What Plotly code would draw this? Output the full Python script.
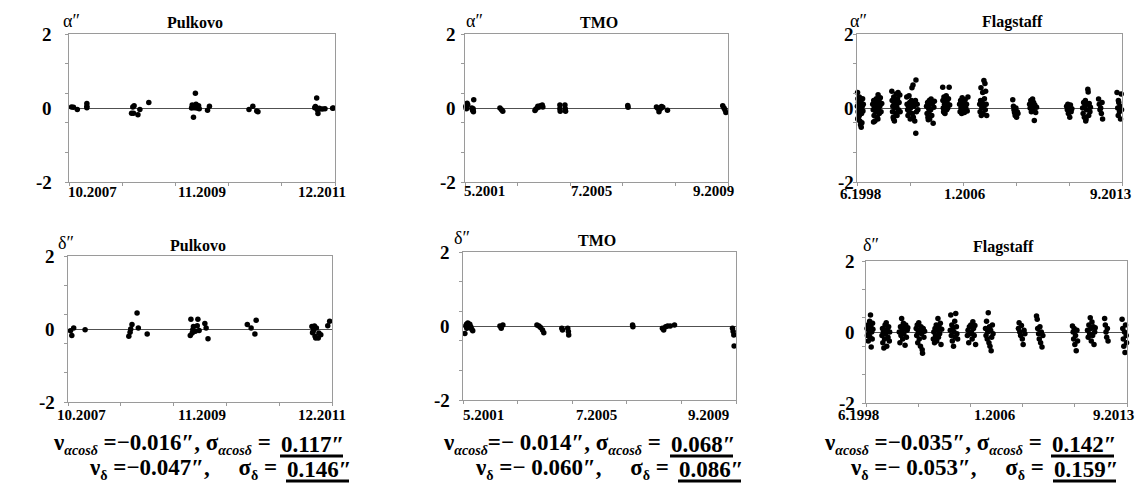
import plotly.graph_objects as go

W, H = 1141, 497

def px(x):
    return x / W

def py(y):
    return 1 - y / H

# ---------------- DATA (decimal year, residual in arcsec) ----------------
pulkovo_ra = [
    (2007.79, 0.03), (2007.82, 0.02), (2007.88, -0.04),
    (2008.03, 0.12), (2008.03, 0.05), (2008.03, 0.01),
    (2008.73, -0.14), (2008.76, -0.14), (2008.75, 0.03), (2008.77, 0.06),
    (2008.83, -0.18), (2008.86, -0.04), (2009.00, 0.15),
    (2009.68, 0.08), (2009.69, 0.02), (2009.67, 0.00), (2009.71, 0.01), (2009.73, 0.40),
    (2009.70, -0.25), (2009.74, 0.10), (2009.75, 0.00), (2009.78, 0.06), (2009.79, -0.02),
    (2009.92, -0.06), (2009.95, 0.05),
    (2010.57, -0.04), (2010.63, 0.05), (2010.69, -0.08), (2010.71, -0.10),
    (2011.60, 0.01), (2011.61, 0.04), (2011.63, 0.27), (2011.64, -0.05), (2011.65, -0.15),
    (2011.67, -0.01), (2011.68, -0.03), (2011.72, -0.03), (2011.76, -0.02), (2011.88, -0.01),
    (2011.89, 0.00),
]
tmo_ra = [
    (2001.36, 0.05), (2001.37, 0.00), (2001.40, 0.13), (2001.42, 0.09), (2001.38, -0.02),
    (2001.55, 0.00), (2001.57, -0.05), (2001.59, -0.02), (2001.61, 0.22), (2001.60, -0.10),
    (2001.58, -0.07),
    (2002.44, 0.00), (2002.49, -0.05), (2002.53, -0.09),
    (2003.55, -0.07), (2003.58, -0.03), (2003.64, 0.05), (2003.67, 0.02), (2003.72, 0.06),
    (2003.78, 0.08), (2003.80, 0.03),
    (2004.34, 0.08), (2004.34, -0.02), (2004.35, -0.09), (2004.50, 0.08), (2004.51, -0.02),
    (2004.52, -0.09),
    (2006.49, 0.07), (2006.50, 0.02),
    (2007.40, 0.03), (2007.44, -0.01), (2007.48, -0.10), (2007.52, -0.03), (2007.56, 0.04),
    (2007.60, 0.02), (2007.75, -0.06),
    (2009.50, 0.06), (2009.54, 0.00), (2009.57, -0.05), (2009.60, -0.12),
]
flagstaff_ra = [
    (1998.45, 0.42), (1998.47, 0.25), (1998.50, 0.15), (1998.44, 0.05), (1998.52, -0.02),
    (1998.48, -0.10), (1998.55, -0.20), (1998.46, -0.30), (1998.58, -0.35), (1998.62, -0.45),
    (1998.66, -0.52), (1998.70, -0.40), (1998.60, 0.10), (1998.65, 0.20), (1998.72, 0.05),
    (1998.76, -0.08), (1998.68, -0.15), (1998.55, 0.30), (1998.74, 0.25), (1998.78, 0.10),
    (1998.50, -0.25), (1998.63, 0.00),
    (1999.32, 0.10), (1999.35, -0.05), (1999.38, 0.20), (1999.40, -0.20), (1999.42, 0.05),
    (1999.45, -0.35), (1999.48, 0.15), (1999.50, -0.10), (1999.53, 0.25), (1999.55, 0.00),
    (1999.58, -0.25), (1999.60, 0.10), (1999.63, 0.36), (1999.65, -0.05), (1999.68, 0.20),
    (1999.70, -0.15), (1999.73, 0.05), (1999.76, 0.28), (1999.80, -0.10), (1999.84, 0.12),
    (1999.37, -0.38), (1999.62, -0.30),
    (2000.42, 0.45), (2000.44, 0.20), (2000.46, -0.10), (2000.48, 0.05), (2000.50, -0.25),
    (2000.53, 0.30), (2000.55, 0.10), (2000.57, -0.35), (2000.60, 0.00), (2000.62, 0.18),
    (2000.65, -0.15), (2000.67, 0.38), (2000.70, 0.05), (2000.72, -0.20), (2000.75, 0.25),
    (2000.78, 0.42), (2000.80, -0.05), (2000.84, 0.15), (2000.88, 0.35), (2000.90, -0.10),
    (2000.52, -0.30), (2000.68, 0.12),
    (2001.28, 0.30), (2001.30, 0.10), (2001.33, -0.05), (2001.35, -0.20), (2001.38, 0.05),
    (2001.41, 0.33), (2001.42, -0.10), (2001.45, 0.15), (2001.48, -0.30), (2001.50, 0.00),
    (2001.55, 0.20), (2001.58, 0.55), (2001.60, -0.15), (2001.62, 0.10), (2001.64, 0.62),
    (2001.66, -0.25), (2001.70, 0.05), (2001.74, -0.35), (2001.78, 0.20), (2001.81, 0.76),
    (2001.80, -0.68), (2001.84, -0.10), (2001.88, 0.10), (2001.92, -0.05),
    (2002.42, 0.05), (2002.45, -0.15), (2002.48, 0.15), (2002.50, -0.25), (2002.53, 0.00),
    (2002.56, -0.10), (2002.58, 0.20), (2002.60, -0.30), (2002.63, 0.10), (2002.66, -0.05),
    (2002.68, 0.24), (2002.72, -0.20), (2002.75, 0.12), (2002.80, -0.41), (2002.84, 0.02),
    (2002.87, 0.18), (2002.52, -0.32),
    (2003.35, 0.56), (2003.36, 0.20), (2003.38, 0.00), (2003.40, -0.10), (2003.42, 0.30),
    (2003.45, 0.10), (2003.48, -0.15), (2003.50, 0.22), (2003.52, 0.05), (2003.55, 0.33),
    (2003.58, -0.05), (2003.60, 0.15), (2003.64, 0.00), (2003.68, 0.25), (2003.72, 0.56),
    (2003.75, 0.08), (2003.44, -0.12),
    (2004.32, 0.10), (2004.35, -0.10), (2004.38, 0.20), (2004.40, 0.00), (2004.44, -0.15),
    (2004.47, 0.28), (2004.50, 0.05), (2004.53, -0.05), (2004.56, 0.15), (2004.60, -0.12),
    (2004.64, 0.22), (2004.68, 0.00), (2004.72, 0.10), (2004.76, -0.08), (2004.80, 0.30),
    (2005.48, 0.10), (2005.50, -0.10), (2005.53, 0.20), (2005.55, 0.55), (2005.57, -0.20),
    (2005.60, 0.00), (2005.62, 0.15), (2005.65, 0.42), (2005.67, -0.15), (2005.70, 0.05),
    (2005.72, 0.74), (2005.75, 0.25), (2005.78, 0.66), (2005.80, -0.05), (2005.82, 0.45),
    (2005.85, 0.10), (2005.88, -0.20),
    (2007.38, 0.22), (2007.42, 0.05), (2007.45, -0.05), (2007.48, -0.12), (2007.52, -0.20),
    (2007.56, 0.00), (2007.60, -0.25), (2007.64, -0.10), (2007.68, -0.15),
    (2008.35, 0.10), (2008.38, 0.00), (2008.42, 0.20), (2008.45, -0.10), (2008.48, 0.05),
    (2008.52, 0.24), (2008.55, -0.05), (2008.58, 0.15), (2008.62, -0.34), (2008.65, 0.08),
    (2008.70, -0.12), (2008.75, 0.02),
    (2010.48, 0.05), (2010.52, -0.05), (2010.55, 0.10), (2010.58, -0.15), (2010.62, 0.00),
    (2010.66, -0.25), (2010.70, 0.08), (2010.74, -0.10), (2010.78, -0.02),
    (2011.40, 0.00), (2011.43, -0.15), (2011.46, 0.15), (2011.50, -0.25), (2011.53, 0.05),
    (2011.56, 0.20), (2011.60, -0.30), (2011.63, -0.05), (2011.66, 0.10), (2011.70, 0.51),
    (2011.72, 0.43), (2011.75, -0.20), (2011.78, 0.12), (2011.82, -0.10), (2011.85, 0.02),
    (2011.58, -0.35),
    (2012.32, 0.24), (2012.36, 0.10), (2012.40, -0.05), (2012.44, 0.00), (2012.48, -0.15),
    (2012.52, 0.15), (2012.55, -0.30),
    (2013.38, 0.42), (2013.42, 0.00), (2013.45, -0.20), (2013.48, 0.15), (2013.52, -0.10),
    (2013.55, 0.05), (2013.58, -0.30), (2013.62, 0.38), (2013.64, -0.05), (2013.46, 0.20),
]
pulkovo_dec = [
    (2007.79, -0.05), (2007.81, -0.18), (2007.84, 0.03), (2008.02, -0.02),
    (2008.71, -0.20), (2008.73, -0.09), (2008.76, 0.12), (2008.74, 0.00), (2008.84, 0.44),
    (2008.86, 0.03), (2009.00, -0.14),
    (2009.68, -0.18), (2009.71, -0.11), (2009.72, -0.02), (2009.69, 0.27), (2009.73, 0.07),
    (2009.76, -0.06), (2009.79, 0.09), (2009.80, 0.27), (2009.82, -0.04), (2009.91, 0.15),
    (2009.93, 0.03), (2009.96, -0.27),
    (2010.58, 0.12), (2010.64, 0.03), (2010.70, -0.14), (2010.72, 0.24),
    (2011.60, 0.07), (2011.61, -0.10), (2011.62, -0.06), (2011.63, 0.00), (2011.64, 0.08),
    (2011.65, -0.20), (2011.66, -0.25), (2011.67, 0.03), (2011.70, -0.25), (2011.71, -0.11),
    (2011.74, -0.16), (2011.85, 0.09), (2011.88, 0.21),
]
tmo_dec = [
    (2001.39, -0.20), (2001.42, 0.00), (2001.44, 0.05), (2001.45, -0.06), (2001.48, 0.08),
    (2001.50, 0.02), (2001.54, 0.05), (2001.57, -0.02), (2001.60, -0.09), (2001.63, -0.13),
    (2002.46, 0.00), (2002.50, -0.06), (2002.55, 0.03),
    (2003.59, 0.03), (2003.65, 0.00), (2003.70, -0.04), (2003.76, -0.11), (2003.80, -0.18),
    (2004.35, -0.06), (2004.37, -0.11), (2004.53, -0.06), (2004.55, -0.15), (2004.56, -0.24),
    (2006.51, 0.03), (2006.52, -0.02),
    (2007.42, -0.06), (2007.46, -0.11), (2007.52, -0.02), (2007.58, 0.00), (2007.66, 0.00),
    (2007.79, 0.03),
    (2009.56, -0.06), (2009.58, -0.15), (2009.60, -0.24), (2009.61, -0.54),
]
flagstaff_dec = [
    (1998.48, 0.10), (1998.50, -0.10), (1998.52, 0.20), (1998.55, -0.25), (1998.58, 0.05),
    (1998.60, -0.05), (1998.63, 0.30), (1998.65, -0.15), (1998.68, 0.48), (1998.70, 0.15),
    (1998.72, -0.42), (1998.75, 0.00), (1998.78, -0.20), (1998.80, 0.25), (1998.82, 0.08),
    (1998.53, 0.12),
    (1999.35, -0.10), (1999.38, 0.10), (1999.40, -0.30), (1999.43, 0.00), (1999.46, -0.45),
    (1999.50, -0.20), (1999.53, 0.20), (1999.56, -0.05), (1999.60, 0.26), (1999.63, -0.40),
    (1999.66, 0.05), (1999.70, -0.15), (1999.74, 0.15), (1999.78, -0.25), (1999.80, 0.00),
    (1999.45, 0.08),
    (2000.36, 0.00), (2000.40, -0.30), (2000.43, 0.15), (2000.46, -0.10), (2000.50, 0.38),
    (2000.53, 0.05), (2000.56, -0.20), (2000.60, 0.25), (2000.63, -0.05), (2000.66, 0.10),
    (2000.70, -0.37), (2000.74, 0.20), (2000.78, -0.15), (2000.82, 0.05), (2000.86, 0.12),
    (2001.35, 0.10), (2001.38, -0.10), (2001.41, 0.20), (2001.44, -0.30), (2001.47, 0.00),
    (2001.50, 0.26), (2001.53, -0.20), (2001.56, 0.05), (2001.60, -0.40), (2001.63, 0.15),
    (2001.66, -0.05), (2001.70, -0.50), (2001.72, -0.60), (2001.76, 0.10), (2001.80, -0.15),
    (2001.84, 0.02),
    (2002.35, -0.20), (2002.38, 0.00), (2002.42, -0.30), (2002.45, 0.10), (2002.48, -0.10),
    (2002.52, 0.20), (2002.55, -0.25), (2002.58, 0.05), (2002.62, 0.38), (2002.65, -0.15),
    (2002.68, 0.15), (2002.72, -0.05), (2002.76, 0.25), (2002.80, -0.35), (2002.84, 0.08),
    (2003.34, 0.05), (2003.37, 0.48), (2003.40, -0.10), (2003.43, 0.20), (2003.46, -0.25),
    (2003.50, 0.10), (2003.53, -0.40), (2003.56, 0.00), (2003.60, 0.30), (2003.63, -0.15),
    (2003.66, 0.52), (2003.70, 0.15), (2003.73, -0.05), (2003.77, -0.20),
    (2004.34, -0.10), (2004.38, 0.05), (2004.42, -0.30), (2004.46, 0.15), (2004.50, -0.05),
    (2004.54, 0.20), (2004.58, 0.00), (2004.62, -0.20), (2004.66, 0.29), (2004.70, 0.10),
    (2004.74, -0.10), (2004.78, 0.18), (2004.82, -0.35),
    (2005.40, 0.10), (2005.43, -0.10), (2005.46, 0.30), (2005.50, -0.20), (2005.53, 0.00),
    (2005.56, 0.54), (2005.60, -0.30), (2005.63, 0.15), (2005.66, -0.40), (2005.70, 0.05),
    (2005.73, -0.53), (2005.76, -0.15), (2005.80, 0.20), (2005.84, -0.05),
    (2007.32, 0.10), (2007.36, 0.26), (2007.40, 0.00), (2007.45, -0.10), (2007.50, 0.18),
    (2007.55, -0.20), (2007.60, -0.35), (2007.65, 0.05), (2007.70, -0.05),
    (2008.38, 0.45), (2008.42, 0.36), (2008.45, 0.10), (2008.50, -0.05), (2008.54, -0.20),
    (2008.58, 0.15), (2008.62, -0.30), (2008.66, 0.00), (2008.70, -0.42), (2008.75, -0.10),
    (2010.48, 0.17), (2010.52, 0.00), (2010.55, -0.20), (2010.58, 0.10), (2010.62, -0.35),
    (2010.66, -0.10), (2010.70, -0.53), (2010.74, 0.05), (2010.78, -0.25),
    (2011.36, 0.05), (2011.40, -0.15), (2011.44, 0.20), (2011.48, -0.05), (2011.52, 0.40),
    (2011.55, 0.10), (2011.58, -0.25), (2011.62, 0.28), (2011.66, -0.10), (2011.70, 0.15),
    (2011.74, -0.35), (2011.78, 0.00), (2011.81, 0.12),
    (2012.36, 0.38), (2012.40, 0.20), (2012.44, 0.00), (2012.48, -0.15), (2012.52, 0.10),
    (2012.56, -0.25),
    (2013.38, 0.36), (2013.42, 0.10), (2013.45, -0.20), (2013.48, -0.40), (2013.52, 0.00),
    (2013.55, -0.58), (2013.58, 0.20), (2013.62, -0.10), (2013.64, -0.30),
]

# axis spans (decimal years) and tick labels
pulkovo_span = (2007.75, 2011.917)
tmo_span = (2001.333, 2009.667)
flagstaff_span = (1998.417, 2013.667)
pulkovo_ticks = ["10.2007", "11.2009", "12.2011"]
tmo_ticks = ["5.2001", "7.2005", "9.2009"]
flagstaff_ticks = ["6.1998", "1.2006", "9.2013"]
y_ticklabels = ["2", "0", "-2"]
y_tickvalues = [2, 0, -2]

SUB = "<sub><span style='font-size:14px'>%s</span></sub>"
stats = [
    # (line1 prefix, line1 value, line2 prefix, line2 value)
    ("ν" + SUB % "<i>αcosδ</i>" + "\u00a0=−0.016″, σ" + SUB % "<i>αcosδ</i>" + "\u00a0=", "0.117″",
     "ν" + SUB % "δ" + "\u00a0=−0.047″,\u00a0\u00a0\u00a0\u00a0\u00a0σ" + SUB % "δ" + "\u00a0=", "0.146″"),
    ("ν" + SUB % "<i>αcosδ</i>" + "=−\u00a00.014″, σ" + SUB % "<i>αcosδ</i>" + "\u00a0=", "0.068″",
     "ν" + SUB % "δ" + "\u00a0=−\u00a00.060″,\u00a0\u00a0\u00a0\u00a0\u00a0σ" + SUB % "δ" + "\u00a0=", "0.086″"),
    ("ν" + SUB % "<i>αcosδ</i>" + "\u00a0=−0.035″, σ" + SUB % "<i>αcosδ</i>" + "\u00a0=", "0.142″",
     "ν" + SUB % "δ" + "\u00a0=−\u00a00.053″,\u00a0\u00a0\u00a0\u00a0\u00a0σ" + SUB % "δ" + "\u00a0=", "0.159″"),
]

# ---------------- LAYOUT (pixel geometry) ----------------
panels = [
    dict(data=pulkovo_ra, title="Pulkovo", sym="α″", span=pulkovo_span, ticks=pulkovo_ticks,
         box=(69, 335, 34, 182), tick_cx=(92, 202, 322), tick_y=192, ylab_r=54,
         title_xy=(195, 23), sym_xy=(71, 21)),
    dict(data=tmo_ra, title="TMO", sym="α″", span=tmo_span, ticks=tmo_ticks,
         box=(465, 728, 34, 182), tick_cx=(485, 591, 713), tick_y=191, ylab_r=458,
         title_xy=(599, 23), sym_xy=(474, 21)),
    dict(data=flagstaff_ra, title="Flagstaff", sym="α″", span=flagstaff_span, ticks=flagstaff_ticks,
         box=(857, 1122, 34, 182), tick_cx=(860, 965, 1110), tick_y=194, ylab_r=856,
         title_xy=(1012, 22), sym_xy=(858, 21)),
    dict(data=pulkovo_dec, title="Pulkovo", sym="δ″", span=pulkovo_span, ticks=pulkovo_ticks,
         box=(68, 332, 256, 402), tick_cx=(81, 202, 322), tick_y=415, ylab_r=57,
         title_xy=(198, 245), sym_xy=(66, 243)),
    dict(data=tmo_dec, title="TMO", sym="δ″", span=tmo_span, ticks=tmo_ticks,
         box=(463, 736, 252, 400), tick_cx=(483, 596, 708), tick_y=415, ylab_r=452,
         title_xy=(597, 240), sym_xy=(462, 238)),
    dict(data=flagstaff_dec, title="Flagstaff", sym="δ″", span=flagstaff_span, ticks=flagstaff_ticks,
         box=(866, 1127, 261, 403), tick_cx=(858, 995, 1113), tick_y=415, ylab_r=857,
         title_xy=(1003, 247), sym_xy=(871, 245)),
]

SERIF = "Liberation Serif, Times New Roman, serif"
FRAME = "#9a9a9a"

fig = go.Figure()
annotations = []
layout = dict(
    width=W, height=H, margin=dict(l=0, r=0, t=0, b=0),
    paper_bgcolor="white", plot_bgcolor="white", showlegend=False,
)

for i, p in enumerate(panels, start=1):
    sfx = "" if i == 1 else str(i)
    xa, ya = "x" + sfx, "y" + sfx
    x0, x1, y0, y1 = p["box"]
    a, b = p["span"]
    xs = [d[0] for d in p["data"]]
    ys = [d[1] for d in p["data"]]
    fig.add_trace(go.Scatter(
        x=xs, y=ys, mode="markers", xaxis=xa, yaxis=ya, cliponaxis=False,
        marker=dict(size=5.5, color="black", line=dict(width=0)), hoverinfo="skip",
    ))
    layout["xaxis" + sfx] = dict(
        domain=[px(x0), px(x1)], range=[a, b], anchor=ya,
        showline=True, mirror=True, linecolor=FRAME, linewidth=1,
        showgrid=False, zeroline=False, ticks="outside", ticklen=3, tickcolor=FRAME,
        tickvals=[a + (b - a) * k / 5 for k in range(6)], showticklabels=False,
    )
    layout["yaxis" + sfx] = dict(
        domain=[py(y1), py(y0)], range=[-2, 2], anchor=xa,
        showline=True, mirror=True, linecolor=FRAME, linewidth=1,
        showgrid=False, zeroline=True, zerolinecolor="#505050", zerolinewidth=1,
        ticks="outside", ticklen=3, tickcolor=FRAME,
        tickvals=[-2, -1.2, -0.4, 0.4, 1.2, 2], showticklabels=False,
    )
    for lab, cx in zip(p["ticks"], p["tick_cx"]):
        annotations.append(dict(
            text="<b>%s</b>" % lab, x=px(cx), y=py(p["tick_y"]), xref="paper", yref="paper",
            xanchor="center", yanchor="middle", showarrow=False,
            font=dict(family=SERIF, size=15, color="black"),
        ))
    for lab, v in zip(y_ticklabels, y_tickvalues):
        annotations.append(dict(
            text="<b>%s</b>" % lab, x=px(p["ylab_r"]), y=v, xref="paper", yref=ya,
            xanchor="right", yanchor="middle", showarrow=False,
            font=dict(family=SERIF, size=19, color="black"),
        ))
    annotations.append(dict(
        text="<b>%s</b>" % p["title"], x=px(p["title_xy"][0]), y=py(p["title_xy"][1]),
        xref="paper", yref="paper", xanchor="center", yanchor="middle", showarrow=False,
        font=dict(family=SERIF, size=16, color="black"),
    ))
    annotations.append(dict(
        text=p["sym"], x=px(p["sym_xy"][0]), y=py(p["sym_xy"][1]),
        xref="paper", yref="paper", xanchor="center", yanchor="middle", showarrow=False,
        font=dict(family=SERIF, size=18, color="black"),
    ))

# statistics text blocks: value left edge per line, and underline right ends
stat_split = [(279, 285), (669, 677), (1050, 1052)]
stat_under_end = [(342, 348), (732, 740), (1113, 1115)]
LINE_Y = (444, 469)
UNDER_Y = (456, 481)
GAP = 6
shapes = []
for (l1p, l1v, l2p, l2v), (s1, s2), (e1, e2) in zip(stats, stat_split, stat_under_end):
    for pre, val, sx, yy, ue, uy in ((l1p, l1v, s1, LINE_Y[0], e1, UNDER_Y[0]),
                                     (l2p, l2v, s2, LINE_Y[1], e2, UNDER_Y[1])):
        annotations.append(dict(
            text="<b>%s</b>" % pre, x=px(sx - GAP), y=py(yy), xref="paper", yref="paper",
            xanchor="right", yanchor="middle", showarrow=False,
            font=dict(family=SERIF, size=23, color="black"),
        ))
        annotations.append(dict(
            text="<b>%s</b>" % val, x=px(sx), y=py(yy), xref="paper", yref="paper",
            xanchor="left", yanchor="middle", showarrow=False,
            font=dict(family=SERIF, size=23, color="black"),
        ))
        shapes.append(dict(type="line", xref="paper", yref="paper",
                           x0=px(sx + 1), x1=px(ue + 1), y0=py(uy), y1=py(uy),
                           line=dict(color="black", width=3)))

layout["annotations"] = annotations
layout["shapes"] = shapes
fig.update_layout(**layout)
fig.write_html(
    "out.html",
    config={"displayModeBar": False, "staticPlot": True},
    post_script="document.body.style.margin='0';document.body.style.padding='0';document.body.style.overflow='hidden';",
)
